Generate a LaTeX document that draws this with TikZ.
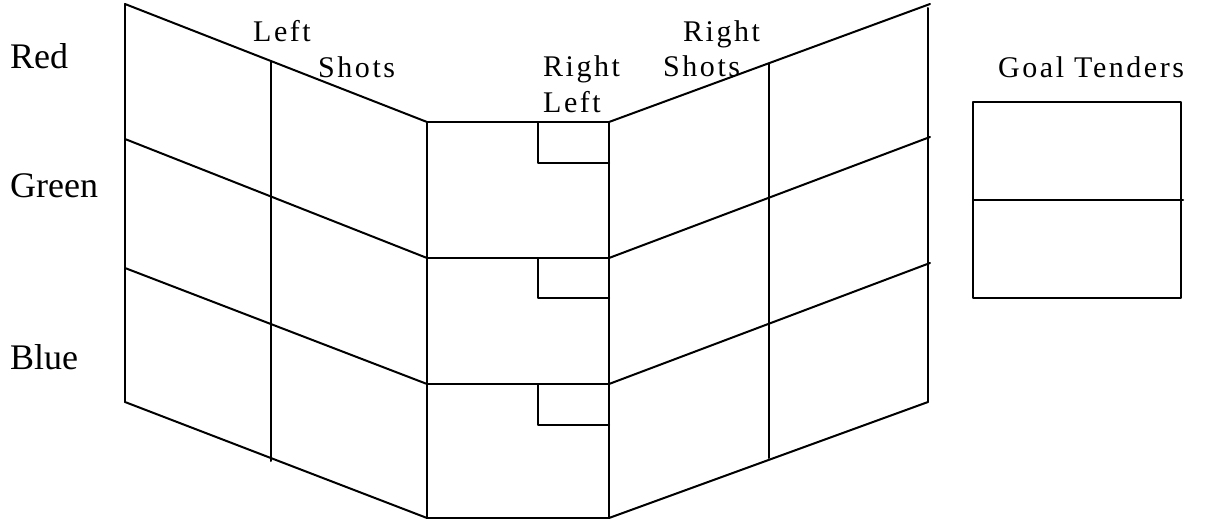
\documentclass[tikz,border=0pt]{standalone}
\usepackage{fontspec}
\setmainfont{Liberation Serif}
\newfontfamily\spacedfont[LetterSpace=8.5]{Liberation Serif}
\begin{document}
\begin{tikzpicture}[x=1pt,y=-1pt,
  grid/.style={line width=2pt, line cap=round, line join=round},
  rowlabel/.style={anchor=base west, inner sep=0pt, font=\fontsize{36}{40}\selectfont},
  collabel/.style={anchor=base west, inner sep=0pt, font=\spacedfont\fontsize{30}{33}\selectfont}]
\useasboundingbox (0,0) rectangle (1212,521);
% left panel
\coordinate (LT) at (125,4);   \coordinate (CT) at (427,122);
\coordinate (LG) at (125,139); \coordinate (CG) at (427,258);
\coordinate (LB) at (125,268); \coordinate (CB) at (427,384);
\coordinate (LE) at (125,402); \coordinate (CE) at (427,518);
% right panel
\coordinate (DT) at (609,122); \coordinate (RT) at (930,4);
\coordinate (DG) at (609,258); \coordinate (RG) at (930,137);
\coordinate (DB) at (609,384); \coordinate (RB) at (930,263);
\coordinate (DE) at (609,518); \coordinate (RE) at (928,402);
\draw[grid] (LT) -- (CT) (LG) -- (CG) (LB) -- (CB) (LE) -- (CE);
\draw[grid] (LT) -- (LE);
\draw[grid] (271,61) -- (271,461);
% center box
\draw[grid] (CT) -- (DT) -- (DE) -- (CE) -- cycle;
\draw[grid] (CG) -- (DG) (CB) -- (DB);
\draw[grid] (538,122) -- (538,163) -- (609,163);
\draw[grid] (538,258) -- (538,298) -- (609,298);
\draw[grid] (538,384) -- (538,425) -- (609,425);
% right panel lines
\draw[grid] (DT) -- (RT) (DG) -- (RG) (DB) -- (RB) (DE) -- (RE);
\draw[grid] (928,8) -- (928,402);
\draw[grid] (769,64) -- (769,458);
% goal tenders box
\draw[grid] (973,102) rectangle (1181,298);
\draw[grid] (973,200) -- (1183,200);
% labels
\node[rowlabel] (red) at (10,69) {Red};
\node[rowlabel] (green) at (10,198) {Green};
\node[rowlabel] (blue) at (10,369) {Blue};
\node[collabel] (lleft) at (253,42) {Left};
\node[collabel] (lshots) at (318,78) {Shots};
\node[collabel] (cright) at (543,77) {Right};
\node[collabel] (cleft) at (543,113) {Left};
\node[collabel] (rright) at (683,42) {Right};
\node[collabel] (rshots) at (663,77) {Shots};
\node[collabel] (goal) at (998,78) {Goal Tenders};
\end{tikzpicture}
\end{document}
